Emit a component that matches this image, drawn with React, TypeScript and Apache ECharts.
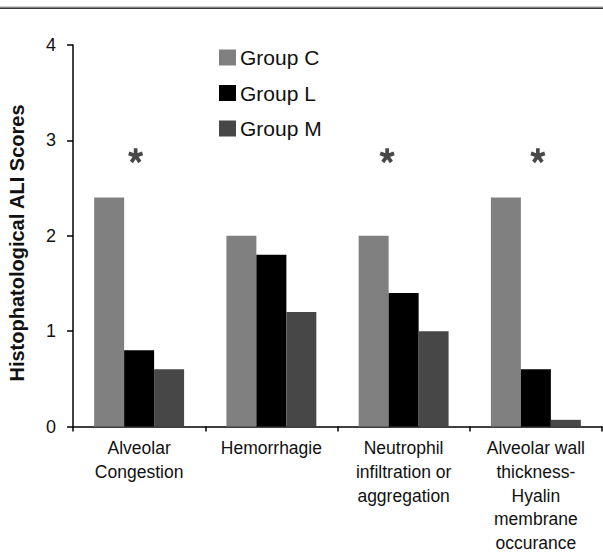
import React, { useEffect, useRef } from "react";
import * as echarts from "echarts";

const categories = [
  "Alveolar\nCongestion",
  "Hemorrhagie",
  "Neutrophil\ninfiltration or\naggregation",
  "Alveolar wall\nthickness-\nHyalin\nmembrane\noccurance",
];
const groupC = [2.4, 2.0, 2.0, 2.4];
const groupL = [0.8, 1.8, 1.4, 0.6];
const groupM = [0.6, 1.2, 1.0, 0.07];
const asteriskValues: (number | null)[] = [2.84, null, 2.84, 2.84];
const asteriskOffsets = [-3.5, 0, -16.5, 2];
const yTicks = [0, 1, 2, 3, 4];

const FONT = "'Liberation Sans', Arial, Helvetica, sans-serif";

function asteriskPath(): string {
  const r = 7.5;
  const w = 3.8;
  let d = "";
  for (let k = 0; k < 5; k++) {
    const a = ((-90 + k * 72) * Math.PI) / 180;
    const dx = Math.cos(a), dy = Math.sin(a);
    const nx = -dy * (w / 2), ny = dx * (w / 2);
    const p = [
      [nx, ny],
      [dx * r + nx, dy * r + ny],
      [dx * r - nx, dy * r - ny],
      [-nx, -ny],
    ];
    d += `M${p[0][0].toFixed(3)} ${p[0][1].toFixed(3)}L${p[1][0].toFixed(3)} ${p[1][1].toFixed(3)}L${p[2][0].toFixed(3)} ${p[2][1].toFixed(3)}L${p[3][0].toFixed(3)} ${p[3][1].toFixed(3)}Z`;
  }
  return "path://" + d;
}

export default function App() {
  const ref = useRef<HTMLDivElement>(null);
  useEffect(() => {
    document.body.style.margin = "0";
    if (!ref.current) return;
    const chart = echarts.init(ref.current, undefined, { renderer: "svg" });
    const star = asteriskPath();
    chart.setOption({
      animation: false,
      backgroundColor: "#ffffff",
      textStyle: { fontFamily: FONT },
      grid: { left: 73, right: 1, top: 45, bottom: 124, containLabel: false },
      legend: {
        data: ["Group C", "Group L", "Group M"],
        orient: "vertical",
        left: 214,
        top: 42,
        itemWidth: 17,
        itemHeight: 16,
        itemGap: 14.5,
        icon: "rect",
        textStyle: { fontSize: 21, color: "#111", fontFamily: FONT, padding: [0, 0, 0, -1] },
      },
      xAxis: {
        type: "category",
        data: categories,
        axisLine: { lineStyle: { color: "#000", width: 1.5 } },
        axisTick: { show: true, length: 5, lineStyle: { color: "#000", width: 1.5 } },
        axisLabel: {
          color: "#111",
          fontSize: 17.5,
          lineHeight: 23.7,
          margin: 10,
          interval: 0,
          fontFamily: FONT,
        },
      },
      yAxis: {
        type: "value",
        min: yTicks[0],
        max: yTicks[yTicks.length - 1],
        interval: 1,
        splitLine: { show: false },
        axisLine: { show: true, lineStyle: { color: "#000", width: 1.5 } },
        axisTick: { show: true, length: 6, lineStyle: { color: "#000", width: 1.5 } },
        axisLabel: { color: "#111", fontSize: 18, margin: 17, fontFamily: FONT },
      },
      series: [
        {
          name: "Group C",
          type: "bar",
          data: groupC,
          barGap: "0%",
          barCategoryGap: "32%",
          itemStyle: { color: "#808080" },
        },
        {
          name: "Group L",
          type: "bar",
          data: groupL,
          barGap: "0%",
          barCategoryGap: "32%",
          itemStyle: { color: "#000000" },
        },
        {
          name: "Group M",
          type: "bar",
          data: groupM,
          barGap: "0%",
          barCategoryGap: "32%",
          itemStyle: { color: "#474747" },
        },
        {
          name: "significance",
          type: "scatter",
          symbol: star,
          symbolSize: [15, 15],
          itemStyle: { color: "#1a1a1a" },
          data: asteriskValues.map((v, i) =>
            v == null ? null : { value: v, symbolOffset: [asteriskOffsets[i], 0] }
          ),
          z: 5,
        },
      ],
      graphic: [
        { type: "rect", shape: { x: 0, y: 6.5, width: 603, height: 1 }, style: { fill: "#9a9a9a" } },
        { type: "rect", shape: { x: 0, y: 7.5, width: 603, height: 1.5 }, style: { fill: "#3a3a3a" } },
        {
          type: "text",
          x: 17,
          y: 243,
          rotation: Math.PI / 2,
          style: {
            text: "Histophatological ALI Scores",
            fontSize: 20,
            fontWeight: "bold",
            fontFamily: FONT,
            fill: "#111",
            align: "center",
            verticalAlign: "middle",
          },
        },
      ],
    });
    return () => chart.dispose();
  }, []);
  return <div ref={ref} style={{ width: 603, height: 555 }} />;
}
